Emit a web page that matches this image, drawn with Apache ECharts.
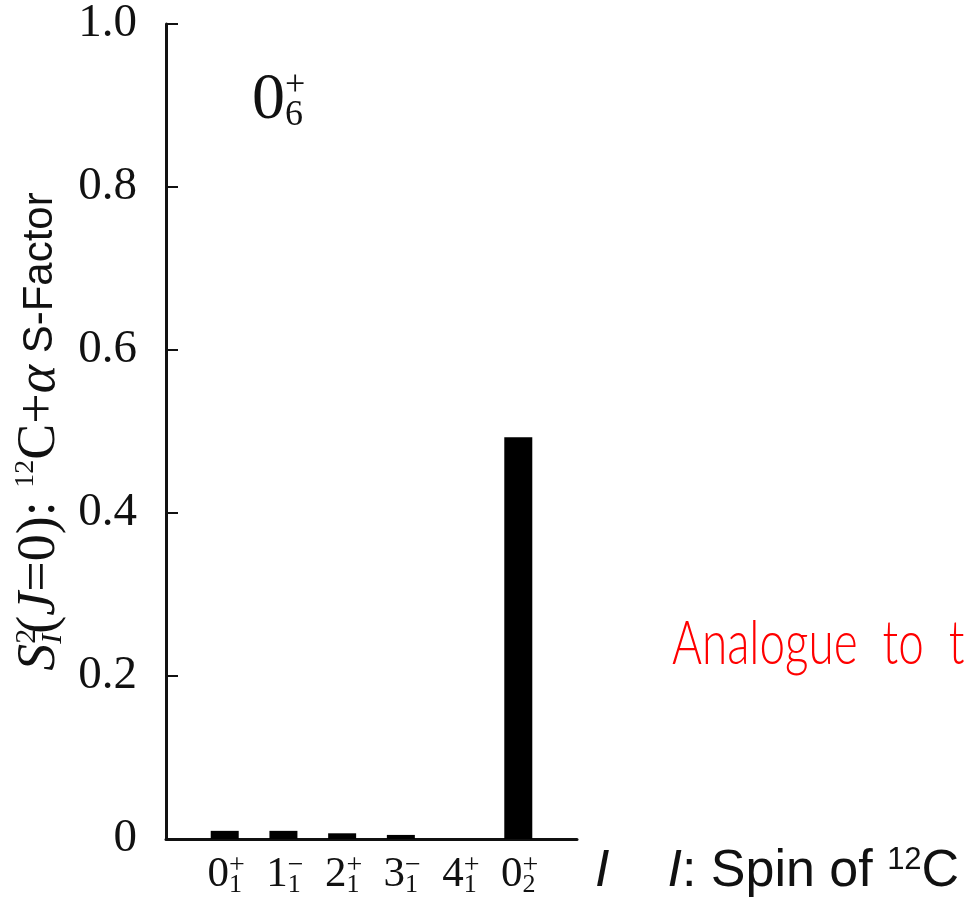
<!DOCTYPE html>
<html lang="en">
  <head>
    <meta charset="UTF-8" />
    <title>12C+alpha S-factor of the 0+6 state</title>
    <script src="https://cdn.jsdelivr.net/npm/echarts@6.0.0/dist/echarts.min.js"></script>
    <style>
      html, body { margin: 0; padding: 0; background: #fff; }
      #main { width: 967px; height: 909px; }
    </style>
  </head>
  <body>
    <div id="main"></div>

    <script>
      // spin states of 12C (empty slots pad the axis ends)
      const stateDigit = ['', '0', '1', '2', '3', '4', '0', ''];
      const stateParity = ['', '+', '\u2212', '+', '\u2212', '+', '+', ''];
      const stateIndex = ['', '1', '1', '1', '1', '1', '2', ''];
      const sFactor = [null, 0.01, 0.01, 0.007, 0.005, 0, 0.493, null];

      const yTicks = [0, 0.2, 0.4, 0.6, 0.8, 1.0];

      const serif = 'Liberation Serif';
      const sans = 'Liberation Sans';
      const ink = '#111';

      const categories = stateDigit.map((d, i) =>
        d ? `{d|${d}}{p|${stateParity[i]}}{b|${stateIndex[i]}}` : ''
      );

      const options = {
        animation: false,
        backgroundColor: '#fff',
        grid: { left: 166, right: 390, top: 24, bottom: 70 },
        xAxis: {
          type: 'category',
          data: categories,
          boundaryGap: false,
          axisLine: { lineStyle: { color: ink, width: 3 } },
          axisTick: { show: false },
          splitLine: { show: false },
          axisLabel: {
            interval: 0,
            margin: 13,
            color: ink,
            rich: {
              d: { fontFamily: serif, fontSize: 43, lineHeight: 46, align: 'left' },
              p: { fontFamily: serif, fontSize: 28, lineHeight: 26, width: 0, align: 'left', verticalAlign: 'top' },
              b: { fontFamily: serif, fontSize: 26, lineHeight: 20, align: 'left', verticalAlign: 'bottom' },
            },
          },
          name: '{i|I}{g|}{i|I}{r|: Spin of }{s|12}{r|C}',
          nameLocation: 'end',
          nameGap: 18,
          nameMoveOverlap: false,
          nameTextStyle: {
            verticalAlign: 'top',
            padding: [6, 0, 0, 0],
            color: ink,
            rich: {
              i: { fontFamily: sans, fontStyle: 'italic', fontSize: 52, lineHeight: 54 },
              g: { width: 58 },
              r: { fontFamily: sans, fontSize: 52, lineHeight: 54 },
              s: { fontFamily: sans, fontSize: 31, lineHeight: 34, verticalAlign: 'top' },
            },
          },
        },
        yAxis: {
          type: 'value',
          min: 0,
          max: 1,
          interval: 0.2,
          axisLine: { show: true, lineStyle: { color: ink, width: 3 } },
          axisTick: { show: true, inside: true, length: 12, lineStyle: { color: ink, width: 2 } },
          splitLine: { show: false },
          axisLabel: {
            margin: 29,
            color: ink,
            fontFamily: serif,
            fontSize: 47,
            formatter: (v) => (yTicks.includes(+v.toFixed(1)) ? (v === 0 ? '0' : v.toFixed(1)) : ''),
          },
          name: '{si|S}{p|2}{b|I}{t|(}{ti|J}{t|=0): }{n|12}{t|C+}{al|\u03b1}{sf| S-Factor}',
          nameLocation: 'middle',
          nameRotate: 90,
          nameGap: 98,
          nameMoveOverlap: false,
          nameTextStyle: {
            color: ink,
            rich: {
              si: { fontFamily: serif, fontStyle: 'italic', fontSize: 54, lineHeight: 56, align: 'left' },
              p: { fontFamily: serif, fontSize: 30, lineHeight: 30, width: 0, align: 'left', verticalAlign: 'top' },
              b: { fontFamily: serif, fontStyle: 'italic', fontSize: 30, lineHeight: 24, align: 'left', verticalAlign: 'bottom' },
              t: { fontFamily: serif, fontSize: 54, lineHeight: 56, align: 'left' },
              ti: { fontFamily: serif, fontStyle: 'italic', fontSize: 54, lineHeight: 56, align: 'left' },
              n: { fontFamily: serif, fontSize: 28, lineHeight: 42, align: 'left', verticalAlign: 'top' },
              al: { fontFamily: serif, fontStyle: 'italic', fontSize: 54, lineHeight: 56, align: 'left' },
              sf: { fontFamily: sans, fontSize: 42, lineHeight: 56, align: 'left' },
            },
          },
        },
        series: [
          {
            type: 'bar',
            data: sFactor,
            barWidth: 28,
            itemStyle: { color: '#000' },
          },
        ],
        graphic: [
          {
            type: 'text',
            left: 252,
            top: 68,
            style: {
              text: '{d|0}{p|+}{b|6}',
              fill: ink,
              rich: {
                d: { fontFamily: serif, fontSize: 66, lineHeight: 66, align: 'left' },
                p: { fontFamily: serif, fontSize: 36, lineHeight: 36, width: 0, align: 'left', verticalAlign: 'top' },
                b: { fontFamily: serif, fontSize: 36, lineHeight: 30, align: 'left', verticalAlign: 'bottom' },
              },
            },
          },
          {
            type: 'text',
            x: 672,
            y: 675,
            scaleX: 0.74,
            style: {
              text: 'Analogue  to  the',
              fill: '#ff0000',
              fontFamily: 'Lato',
              fontWeight: 300,
              fontSize: 62,
              textVerticalAlign: 'bottom',
            },
          },
        ],
      };

      const myChart = echarts.init(document.getElementById('main'));
      myChart.setOption(options);
    </script>
  </body>
</html>
